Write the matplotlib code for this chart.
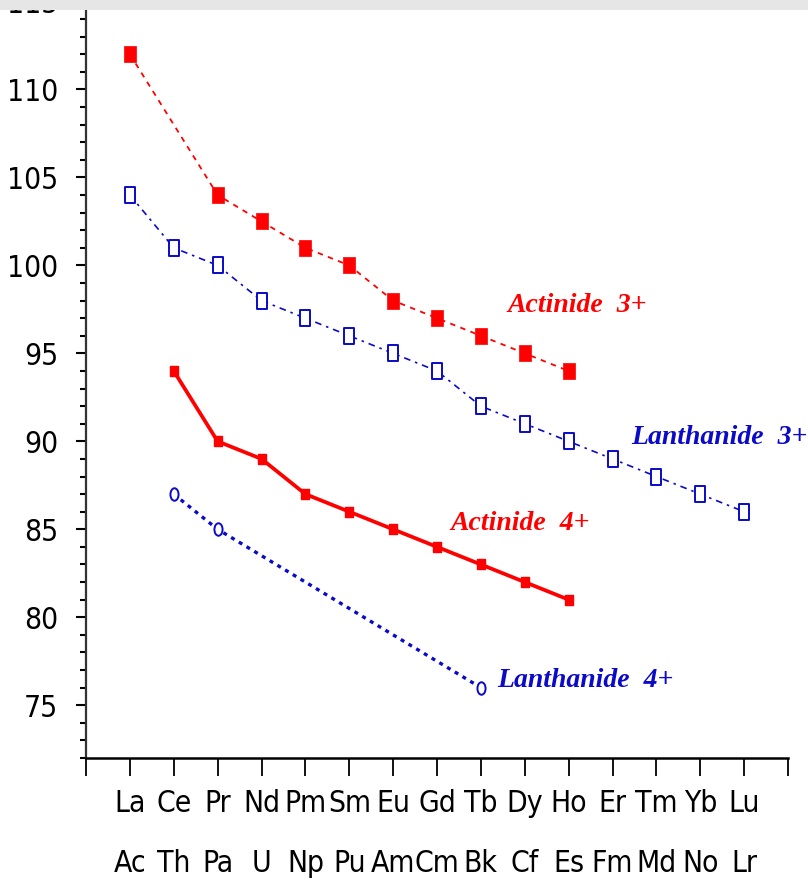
import matplotlib
matplotlib.use('Agg')
import matplotlib.pyplot as plt
import numpy as np
from matplotlib import font_manager
from matplotlib.path import Path
from matplotlib.transforms import Affine2D
from matplotlib.patches import Rectangle

# element pairs on the x axis (lanthanide over actinide)
lanthanides = ['La', 'Ce', 'Pr', 'Nd', 'Pm', 'Sm', 'Eu', 'Gd', 'Tb', 'Dy', 'Ho', 'Er', 'Tm', 'Yb', 'Lu']
actinides = ['Ac', 'Th', 'Pa', 'U', 'Np', 'Pu', 'Am', 'Cm', 'Bk', 'Cf', 'Es', 'Fm', 'Md', 'No', 'Lr']

# ionic radii (pm); index = position in the row above
act3_idx = [0, 2, 3, 4, 5, 6, 7, 8, 9, 10]
act3_val = [112, 104, 102.5, 101, 100, 98, 97, 96, 95, 94]

lan3_idx = list(range(15))
lan3_val = [104, 101, 100, 98, 97, 96, 95, 94, 92, 91, 90, 89, 88, 87, 86]

act4_idx = [1, 2, 3, 4, 5, 6, 7, 8, 9, 10]
act4_val = [94, 90, 89, 87, 86, 85, 84, 83, 82, 81]

lan4_idx = [1, 2, 8]
lan4_val = [87, 85, 76]

ytick_vals = [75, 80, 85, 90, 95, 100, 105, 110, 115]

# narrow sans for the tick labels if we have one
names = {f.name for f in font_manager.fontManager.ttflist}
if 'Liberation Sans Narrow' in names:
    tick_fp = font_manager.FontProperties(family='Liberation Sans Narrow', size=27)
else:
    tick_fp = font_manager.FontProperties(family='DejaVu Sans', stretch='condensed', size=21.5)

red = '#ff0000'
blue = '#0a0ac8'

# tall rectangle / ellipse markers (the source picture is stretched vertically)
rect = Path.unit_rectangle().transformed(Affine2D().translate(-0.5, -0.5).scale(0.7, 1.0))
ellipse = Path.unit_circle().transformed(Affine2D().scale(0.65, 1.0))

fig = plt.figure(figsize=(8.08, 8.83), dpi=100)
ax = fig.add_axes([86 / 808, 125 / 883, (788 - 86) / 808, 765.3 / 883])

ax.plot(act3_idx, act3_val, color=red, lw=1.3, dashes=(3, 3),
        marker=rect, ms=12, mfc=red, mec=red, mew=0.5)
ax.plot(lan3_idx, lan3_val, color=blue, lw=1.2, dashes=(4, 3, 1.5, 3),
        marker=rect, ms=11, mfc='white', mec=blue, mew=1.4)
ax.plot(act4_idx, act4_val, color=red, lw=2.7, ls='-',
        marker=rect, ms=7.5, mfc=red, mec=red)
ax.plot(lan4_idx, lan4_val, color=blue, lw=2.4, dashes=(1.2, 1.5),
        marker=ellipse, ms=9, mfc='white', mec=blue, mew=1.4)

lab = dict(family='Liberation Serif', style='italic', weight='bold', size=20,
           ha='left', va='center')
ax.text(8.6, 97.7, 'Actinide  3+', color=red, **lab)
ax.text(11.42, 90.2, 'Lanthanide  3+', color=blue, **lab)
ax.text(7.3, 85.35, 'Actinide  4+', color=red, **lab)
ax.text(8.38, 76.4, 'Lanthanide  4+', color=blue, **lab)

ax.set_xlim(-1, 15)
ax.set_ylim(72, 115.5)

xt = np.arange(-1, 16)
xl = [''] + [f'{a}\n{b}' for a, b in zip(lanthanides, actinides)] + ['']
ax.set_xticks(xt, xl)
ax.set_yticks(ytick_vals, [str(v) for v in ytick_vals])
ax.set_yticks(np.arange(72, 116), minor=True)
for t in ax.get_xticklabels() + ax.get_yticklabels():
    t.set_fontproperties(tick_fp)
    t.set_linespacing(2.35)

ax.tick_params(axis='y', which='major', length=7, width=1.5, pad=13, direction='out')
ax.tick_params(axis='y', which='minor', length=4.5, width=1.5, direction='out')
ax.tick_params(axis='x', which='major', length=13, width=1.3, pad=9, direction='out')
ax.spines['top'].set_visible(False)
ax.spines['right'].set_visible(False)
ax.spines['left'].set_linewidth(1.6)
ax.spines['left'].set_color('#333333')
ax.spines['bottom'].set_linewidth(1.8)

# gray strip across the top of the screenshot
fig.patches.append(Rectangle((0, 1 - 10 / 883), 1, 10 / 883, transform=fig.transFigure,
                             facecolor='#e6e6e6', edgecolor='none', zorder=10))

fig.savefig('out.png', dpi=100)
